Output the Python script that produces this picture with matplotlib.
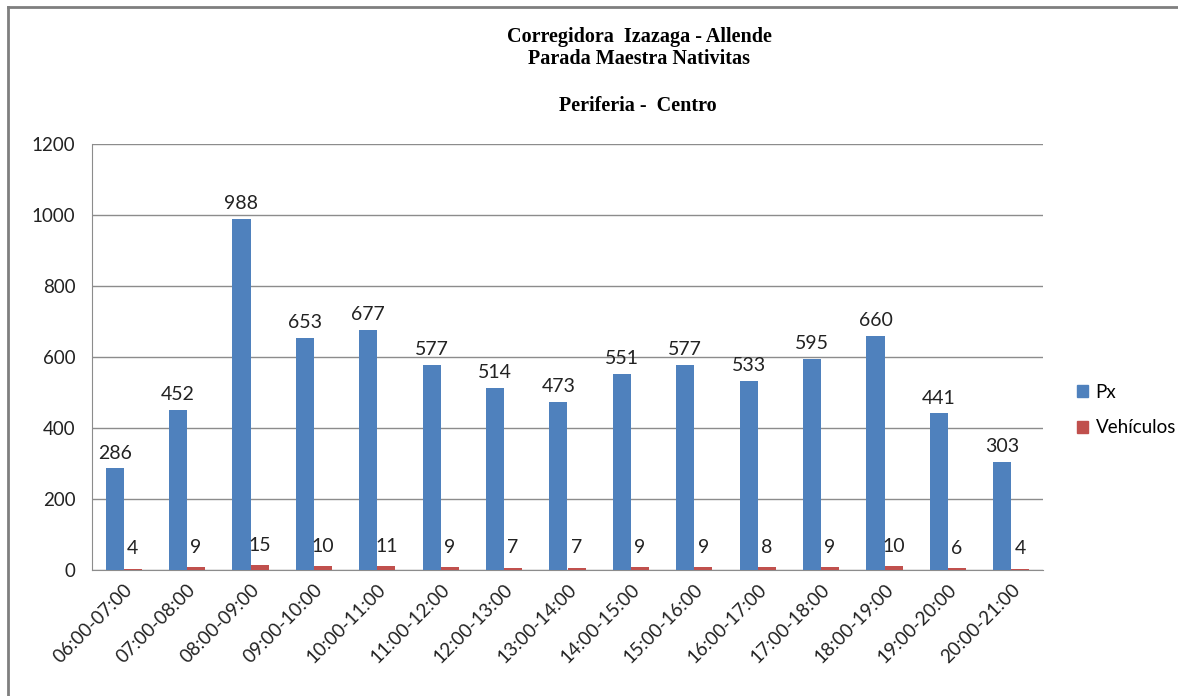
import matplotlib
matplotlib.use("Agg")
import matplotlib.pyplot as plt
import numpy as np
from matplotlib.lines import Line2D
from matplotlib.patches import Patch

categories = ["06:00-07:00", "07:00-08:00", "08:00-09:00", "09:00-10:00", "10:00-11:00",
              "11:00-12:00", "12:00-13:00", "13:00-14:00", "14:00-15:00", "15:00-16:00",
              "16:00-17:00", "17:00-18:00", "18:00-19:00", "19:00-20:00", "20:00-21:00"]
px = [286, 452, 988, 653, 677, 577, 514, 473, 551, 577, 533, 595, 660, 441, 303]
vehiculos = [4, 9, 15, 10, 11, 9, 7, 7, 9, 9, 8, 9, 10, 6, 4]
yticks = [0, 200, 400, 600, 800, 1000, 1200]

blue = "#4F81BD"
red = "#C0504D"
grid = "#8C8C8C"
font = "Lato"

fig = plt.figure(figsize=(11.78, 6.96), dpi=100)
ax = fig.add_axes([92/1178, 1-570/696, (1043-92)/1178, (570-144)/696])

x = np.arange(len(categories))
w = 0.284
b1 = ax.bar(x - w/2, px, width=w, color=blue, label="Px", zorder=3)
b2 = ax.bar(x + w/2, vehiculos, width=w, color=red, label="Vehículos", zorder=3)

for rect, v in zip(b1, px):
    ax.annotate(str(v), (rect.get_x() + rect.get_width()/2, v), xytext=(0, 5),
                textcoords="offset points", ha="center", va="bottom",
                fontsize=14, family=font, color="#222222")
for rect, v in zip(b2, vehiculos):
    ax.annotate(str(v), (rect.get_x() + rect.get_width()/2, v), xytext=(0, 8),
                textcoords="offset points", ha="center", va="bottom",
                fontsize=14, family=font, color="#222222")

ax.set_xlim(-0.5, len(categories) - 0.5)
ax.set_ylim(0, 1200)
ax.set_yticks(yticks)
ax.set_yticklabels([str(t) for t in yticks], family=font, fontsize=13.5)
ax.set_xticks(x)
ax.set_xticklabels(categories, rotation=45, ha="right", rotation_mode="anchor",
                   family=font, fontsize=13.5)
ax.tick_params(axis="both", length=0, pad=12, colors="#222222")
ax.tick_params(axis="x", pad=8)
ax.yaxis.grid(True, color=grid, linewidth=1, zorder=0)
ax.set_axisbelow(True)
for s in ["top", "right"]:
    ax.spines[s].set_visible(False)
ax.spines["left"].set_color(grid)
ax.spines["bottom"].set_color(grid)

handles = [Patch(color=blue), Patch(color=red)]
fig.legend(handles, ["Px", "Vehículos"], loc="center left",
           bbox_to_anchor=(1060/1178, 1-410/696), frameon=False,
           prop={"family": font, "size": 13.5}, handlelength=0.6, handleheight=0.6,
           handletextpad=0.4, labelspacing=1.0)

tf = dict(ha="center", va="center", family="Liberation Serif", fontweight="bold",
          fontsize=14.5)
fig.text(639/1178, 1-37/696, "Corregidora  Izazaga - Allende", **tf)
fig.text(639/1178, 1-59/696, "Parada Maestra Nativitas", **tf)
fig.text(638/1178, 1-106/696, "Periferia -  Centro", **tf)

fig.add_artist(Line2D([8/1178, 8/1178], [0, 1-7/696], transform=fig.transFigure,
                      color="#7F7F7F", linewidth=2))
fig.add_artist(Line2D([8/1178, 1], [1-7/696, 1-7/696], transform=fig.transFigure,
                      color="#7F7F7F", linewidth=2))

fig.savefig("out.png", dpi=100)
